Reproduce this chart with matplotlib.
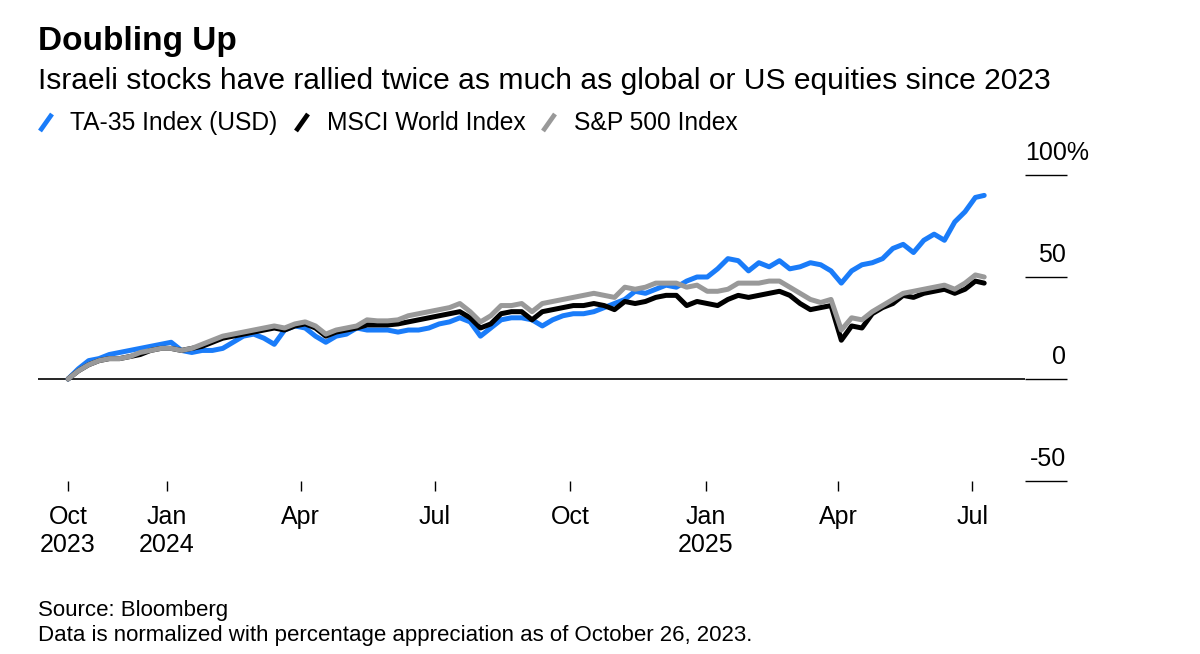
import datetime as dt
import pandas as pd
import matplotlib
matplotlib.use("Agg")
import matplotlib.pyplot as plt
import matplotlib.dates as mdates
from matplotlib.lines import Line2D

plt.rcParams['font.family'] = ['Liberation Sans', 'DejaVu Sans']

# weekly readings, % appreciation since Oct 26, 2023 (last value: Jul 9, 2025)
ta35 = [0, 5, 9, 10, 12, 13, 14, 15, 16, 17,
        18, 14, 13, 14, 14, 15, 18, 21, 22, 20,
        17, 24, 26, 25, 21, 18, 21, 22, 25, 24,
        24, 24, 23, 24, 24, 25, 27, 28, 30, 28,
        21, 25, 29, 30, 30, 29, 26, 29, 31, 32,
        32, 33, 35, 37, 39, 43, 42, 44, 46, 45,
        48, 50, 50, 54, 59, 58, 53, 57, 55, 58,
        54, 55, 57, 56, 53, 47, 53, 56, 57, 59,
        64, 66, 62, 68, 71, 68, 77, 82, 89,
        90]
msci = [0, 4, 7, 9, 10, 10, 11, 12, 14, 15,
        15, 14, 15, 16, 18, 20, 21, 22, 23, 24,
        25, 24, 26, 27, 25, 21, 23, 24, 25, 26.5,
        26.5, 26.5, 27, 28, 29, 30, 31, 32, 33, 30,
        25, 27, 32, 33, 33, 29, 33, 34, 35, 36,
        36, 37, 36, 34, 38, 37, 38, 40, 41, 41,
        36, 38, 37, 36, 39, 41, 40, 41, 42, 43,
        41, 37, 34, 35, 36, 19, 26, 25, 32, 35,
        37, 41, 40, 42, 43, 44, 42, 44, 48,
        47]
spx = [0, 4, 7, 9, 10, 10, 11, 13, 14, 15,
       15, 14, 15, 17, 19, 21, 22, 23, 24, 25,
       26, 25, 27, 28, 26, 22, 24, 25, 26, 29,
       28.5, 28.5, 29, 31, 32, 33, 34, 35, 37, 33,
       28, 31, 36, 36, 37, 33, 37, 38, 39, 40,
       41, 42, 41, 40, 45, 44, 45, 47, 47, 47,
       45, 46, 43, 43, 44, 47, 47, 47, 48, 48,
       45, 42, 39, 37.5, 39, 24, 30, 29, 33, 36,
       39, 42, 43, 44, 45, 46, 44, 47, 51,
       50]

dates = list(pd.date_range('2023-10-26', periods=89, freq='7D')) + [pd.Timestamp('2025-07-09')]

tick_dates = [dt.date(2023, 10, 26), dt.date(2024, 1, 1), dt.date(2024, 4, 1),
              dt.date(2024, 7, 1), dt.date(2024, 10, 1), dt.date(2025, 1, 1),
              dt.date(2025, 4, 1), dt.date(2025, 7, 1)]
tick_labels = ['Oct\n2023', 'Jan\n2024', 'Apr', 'Jul', 'Oct', 'Jan\n2025', 'Apr', 'Jul']
y_ticks = [-50, 0, 50, 100]
y_labels = ['-50', '0', '50', '100%']

series = [("TA-35 Index (USD)", ta35, '#1a7cf9'),
          ("MSCI World Index", msci, '#000000'),
          ("S&P 500 Index", spx, '#999999')]

W, H = 1200, 654
fig = plt.figure(figsize=(W / 100, H / 100), dpi=100)


def fx(px):
    return px / W


def fy(py):
    return 1 - py / H


ax = fig.add_axes([fx(38), fy(481), fx(1025) - fx(38), fy(175) - fy(481)])

for name, vals, col in series:
    ax.plot(dates, vals, color=col, lw=3.6, solid_joinstyle='round',
            solid_capstyle='round', zorder=3)

ax.axhline(0, color='black', lw=1.2, zorder=2)

start = pd.Timestamp('2023-10-26')
ax.set_xlim(start - pd.Timedelta(days=20.4), start + pd.Timedelta(days=649.7))
ax.set_ylim(-50, 100)

for s in ax.spines.values():
    s.set_visible(False)

ax.set_xticks([mdates.date2num(d) for d in tick_dates])
ax.set_xticklabels(tick_labels, fontsize=18, linespacing=1.25)
ax.tick_params(axis='x', length=7, width=1, color='black', pad=10, direction='out')

ax.yaxis.tick_right()
ax.set_yticks(y_ticks)
ax.set_yticklabels([])
ax.tick_params(axis='y', length=30.5, width=1, color='black', direction='out')

for v, lab in zip(y_ticks, y_labels):
    if lab.endswith('%'):
        ax.annotate(lab, xy=(1, v), xycoords=('axes fraction', 'data'),
                    xytext=(0, 11), textcoords='offset points',
                    ha='left', va='baseline', fontsize=18, annotation_clip=False)
    else:
        ax.annotate(lab, xy=(1, v), xycoords=('axes fraction', 'data'),
                    xytext=(29.5, 11), textcoords='offset points',
                    ha='right', va='baseline', fontsize=18, annotation_clip=False)

# header
fig.text(fx(38), fy(50), "Doubling Up", fontsize=24, weight='bold', va='baseline')
fig.text(fx(38), fy(89), "Israeli stocks have rallied twice as much as global or US equities since 2023",
         fontsize=21.6, va='baseline')

# legend with slash markers
leg_pos = [(40, 70), (296, 327), (543, 574)]
for (mx, tx), (name, vals, col) in zip(leg_pos, series):
    fig.add_artist(Line2D([fx(mx), fx(mx + 12)], [fy(131), fy(114)], color=col, lw=3.4,
                          solid_capstyle='butt'))
    fig.text(fx(tx), fy(130), name, fontsize=17.7, va='baseline')

# footer
fig.text(fx(38), fy(616), "Source: Bloomberg", fontsize=16, va='baseline')
fig.text(fx(38), fy(641), "Data is normalized with percentage appreciation as of October 26, 2023.",
         fontsize=16, va='baseline')

fig.savefig('out.png', dpi=100, facecolor='white')
